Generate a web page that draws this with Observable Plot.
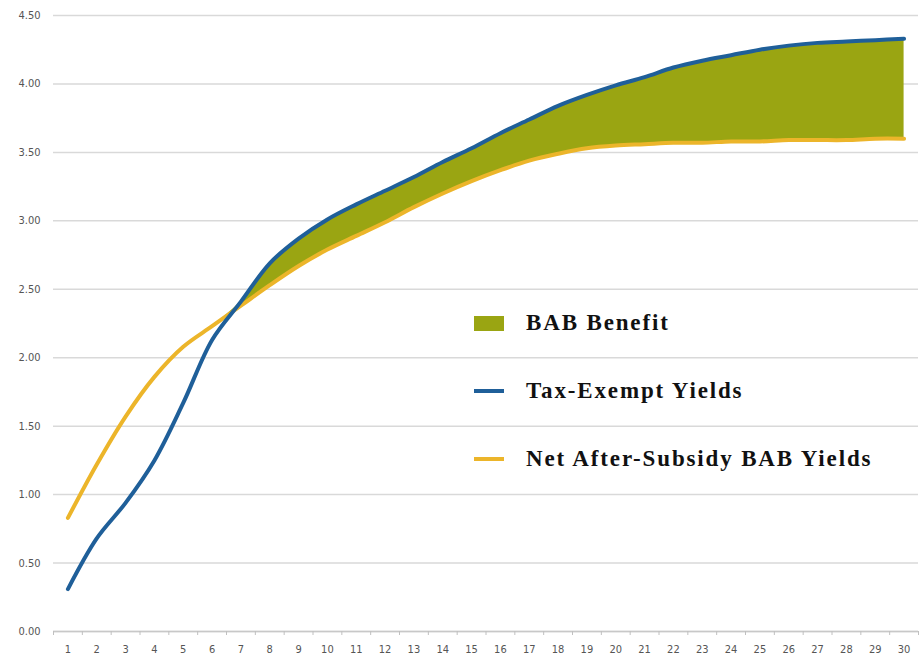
<!DOCTYPE html>
<html>
<head>
<meta charset="utf-8">
<script src="https://cdn.jsdelivr.net/npm/d3@7"></script>
<script src="https://cdn.jsdelivr.net/npm/@observablehq/plot@0.6"></script>
<style>
  html, body { margin: 0; padding: 0; background: #fff; }
  #wrap { position: relative; width: 921px; height: 661px; }
  #legend { position: absolute; left: 474px; top: 303px; font-family: "Liberation Serif", "DejaVu Serif", serif; font-weight: bold; font-size: 23px; color: #111; letter-spacing: 1.85px; }
  .row { display: flex; align-items: center; height: 40px; margin-bottom: 28px; }
  .sw { width: 30px; margin-right: 22px; }
</style>
</head>
<body>
<div id="wrap"></div>
<script>
// Maturity (years) on the x axis
const years = [1,2,3,4,5,6,7,8,9,10,11,12,13,14,15,16,17,18,19,20,21,22,23,24,25,26,27,28,29,30];
// Tax-exempt yield curve (%)
const taxExempt = [0.31,0.68,0.94,1.25,1.67,2.13,2.41,2.69,2.87,3.01,3.12,3.22,3.32,3.43,3.53,3.64,3.74,3.84,3.92,3.99,4.05,4.12,4.17,4.21,4.25,4.28,4.30,4.31,4.32,4.33];
// Net after-subsidy BAB yield curve (%)
const netBAB = [0.83,1.22,1.57,1.86,2.08,2.23,2.38,2.53,2.67,2.79,2.89,2.99,3.10,3.20,3.29,3.37,3.44,3.49,3.53,3.55,3.56,3.57,3.57,3.58,3.58,3.59,3.59,3.59,3.60,3.60];
// Y axis tick values
const yTicks = [0,0.5,1,1.5,2,2.5,3,3.5,4,4.5];

const series = [
  {name: "BAB Benefit", color: "#9aa512", kind: "area"},
  {name: "Tax-Exempt Yields", color: "#1f5f99", kind: "line"},
  {name: "Net After-Subsidy BAB Yields", color: "#ecb52a", kind: "line"}
];

const rows = years.map((yr, i) => ({year: yr, te: taxExempt[i], net: netBAB[i]}));
const bounds = [years[0] - 0.5, ...years.map(d => d + 0.5)];
const curve = "catmull-rom";

const chart = Plot.plot({
  width: 921,
  height: 661,
  marginLeft: 53,
  marginRight: 3,
  marginTop: 15,
  marginBottom: 30,
  style: {fontFamily: "'DejaVu Sans Condensed', 'Liberation Sans', sans-serif", fontSize: "11px", color: "#555", background: "#fff"},
  x: {domain: [years[0] - 0.5, years[years.length - 1] + 0.5]},
  y: {domain: [0, 4.5]},
  marks: [
    Plot.gridY(yTicks, {stroke: "#d9d9d9", strokeOpacity: 1, strokeWidth: 1.5}),
    Plot.axisY(yTicks, {tickSize: 0, tickPadding: 13, tickFormat: d3.format(".2f"), label: null}),
    Plot.ruleY([0], {stroke: "#c8c8c8", strokeWidth: 1.5}),
    Plot.axisX(bounds, {tickSize: 4, stroke: "#c0c0c0", tickFormat: () => "", label: null}),
    Plot.axisX(years, {tickSize: 0, tickPadding: 14, tickFormat: d => String(d), label: null, fontSize: 11}),
    Plot.areaY(rows, {x: "year", y1: "net", y2: d => Math.max(d.te, d.net), fill: series[0].color, curve}),
    Plot.line(rows, {x: "year", y: "net", stroke: series[2].color, strokeWidth: 4, curve, strokeLinecap: "round"}),
    Plot.line(rows, {x: "year", y: "te", stroke: series[1].color, strokeWidth: 4, curve, strokeLinecap: "round"})
  ]
});

const wrap = document.getElementById("wrap");
wrap.appendChild(chart);

// Legend overlaid on the plot area
const legend = document.createElement("div");
legend.id = "legend";
for (const s of series) {
  const row = document.createElement("div");
  row.className = "row";
  const sw = document.createElement("div");
  sw.className = "sw";
  sw.style.background = s.color;
  sw.style.height = s.kind === "area" ? "15px" : "4px";
  const label = document.createElement("span");
  label.textContent = s.name;
  row.appendChild(sw);
  row.appendChild(label);
  legend.appendChild(row);
}
wrap.appendChild(legend);
</script>
</body>
</html>
